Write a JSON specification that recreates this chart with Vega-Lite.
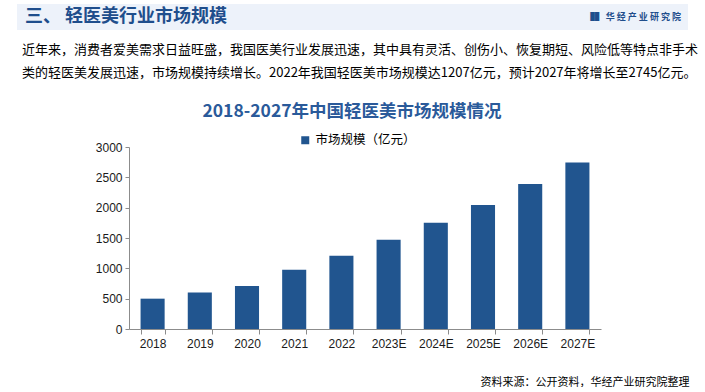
{
  "$schema": "https://vega.github.io/schema/vega-lite/v6.json",
  "padding": {"left": 17, "top": 4, "right": 17, "bottom": 0},
  "background": "white",
  "config": {"view": {"stroke": null}, "font": "Noto Sans CJK SC"},
  "spacing": 22,
  "resolve": {"legend": {"color": "independent"}},
  "vconcat": [
    {
      "width": 671,
      "height": 26,
      "view": {"fill": "#edf2fa", "stroke": null},
      "title": {
        "text": [
          "近年来，消费者爱美需求日益旺盛，我国医美行业发展迅速，其中具有灵活、创伤小、恢复期短、风险低等特点非手术",
          "类的轻医美发展迅速，市场规模持续增长。2022年我国轻医美市场规模达1207亿元，预计2027年将增长至2745亿元。"
        ],
        "orient": "bottom",
        "anchor": "start",
        "offset": 14,
        "fontSize": 13,
        "fontWeight": "normal",
        "color": "#000000",
        "lineHeight": 23,
        "dx": 5,
        "font": "Noto Sans CJK SC"
      },
      "data": {"values": [
        {"k": "左", "t": "三、 轻医美行业市场规模"},
        {"k": "右", "t": "▐▌ 华 经 产 业 研 究 院"}
      ]},
      "encoding": {
        "x": {"field": "k", "type": "nominal", "scale": {"type": "point", "padding": 0, "domain": ["左", "右"]}, "axis": null},
        "text": {"field": "t"}
      },
      "layer": [
        {
          "transform": [{"filter": "datum.k === '左'"}],
          "mark": {"type": "text", "align": "left", "dx": 8, "fontSize": 18, "fontWeight": "bold", "color": "#1f4e8c"}
        },
        {
          "transform": [{"filter": "datum.k === '右'"}],
          "mark": {"type": "text", "align": "right", "dx": -7, "fontSize": 9, "fontWeight": "bold", "color": "#1f4e8c"}
        }
      ]
    },
    {
      "resolve": {"legend": {"color": "independent"}},
      "spacing": 19,
      "hconcat": [
        {
          "width": 59,
          "height": 2,
          "data": {"values": []},
          "mark": {"type": "rule"},
          "encoding": {}
        },
        {
          "width": 472,
          "height": 182,
          "title": {
            "text": "2018-2027年中国轻医美市场规模情况",
            "fontSize": 17.5,
            "fontWeight": "bold",
            "color": "#2a5a9a",
            "anchor": "middle",
            "dx": -13,
            "offset": 14
          },
          "data": {"values": [
            {"年份": "2018", "规模": 500, "系列": "市场规模（亿元）"},
            {"年份": "2019", "规模": 600, "系列": "市场规模（亿元）"},
            {"年份": "2020", "规模": 710, "系列": "市场规模（亿元）"},
            {"年份": "2021", "规模": 975, "系列": "市场规模（亿元）"},
            {"年份": "2022", "规模": 1207, "系列": "市场规模（亿元）"},
            {"年份": "2023E", "规模": 1470, "系列": "市场规模（亿元）"},
            {"年份": "2024E", "规模": 1750, "系列": "市场规模（亿元）"},
            {"年份": "2025E", "规模": 2045, "系列": "市场规模（亿元）"},
            {"年份": "2026E", "规模": 2390, "系列": "市场规模（亿元）"},
            {"年份": "2027E", "规模": 2745, "系列": "市场规模（亿元）"}
          ]},
          "mark": {"type": "bar"},
          "encoding": {
            "x": {
              "field": "年份",
              "type": "ordinal",
              "sort": null,
              "scale": {"paddingInner": 0.49, "paddingOuter": 0.245},
              "axis": {
                "title": "资料来源：公开资料，华经产业研究院整理",
                "titleFontSize": 11,
                "titleFontWeight": "normal",
                "titleColor": "#000000",
                "titleAnchor": "end",
                "titleAlign": "right",
                "titleX": 560,
                "titlePadding": 27,
                "labelAngle": 0,
                "labelFontSize": 12,
                "labelFont": "Liberation Sans",
                "labelColor": "#1a1a1a",
                "labelPadding": 4,
                "tickBand": "extent",
                "tickSize": 5,
                "tickColor": "#8c8c8c",
                "domainColor": "#8c8c8c"
              }
            },
            "y": {
              "field": "规模",
              "type": "quantitative",
              "scale": {"domain": [0, 3000]},
              "axis": {
                "title": null,
                "values": [0, 500, 1000, 1500, 2000, 2500, 3000],
                "format": "d",
                "grid": false,
                "tickSize": 4,
                "tickColor": "#8c8c8c",
                "domainColor": "#8c8c8c",
                "labelFontSize": 12,
                "labelFont": "Liberation Sans",
                "labelColor": "#1a1a1a",
                "labelPadding": 3
              }
            },
            "color": {
              "field": "系列",
              "type": "nominal",
              "scale": {"range": ["#21558f"]},
              "legend": {
                "title": null,
                "orient": "none",
                "legendX": 170,
                "legendY": -13,
                "direction": "horizontal",
                "symbolType": "square",
                "symbolSize": 64,
                "labelFontSize": 12.5,
                "labelColor": "#000000",
                "symbolStrokeWidth": 0
              }
            }
          }
        }
      ]
    }
  ]
}
